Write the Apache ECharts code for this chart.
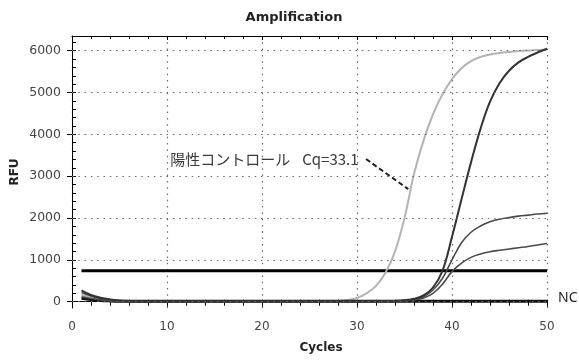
<!DOCTYPE html>
<html>
<head>
<meta charset="utf-8">
<script src="https://cdn.jsdelivr.net/npm/echarts@6/dist/echarts.min.js"></script>
<style>
  html, body { margin: 0; padding: 0; background: #fff; }
  #chart { width: 579px; height: 363px; }
</style>
</head>
<body>
<div id="chart"></div>
<script>
// PCR cycle numbers
const CYCLES = [
  1, 2, 3, 4, 5, 6, 7, 8, 9, 10,
  11, 12, 13, 14, 15, 16, 17, 18, 19, 20,
  21, 22, 23, 24, 25, 26, 27, 28, 29, 30,
  31, 32, 33, 34, 35, 36, 37, 38, 39, 40,
  41, 42, 43, 44, 45, 46, 47, 48, 49, 50
];

// Fluorescence (RFU) per cycle
const POSITIVE = [
  160, 100, 60, 35, 20, 10, 6, 4, 3, 3,
  2, 3, 3, 2, 3, 3, 3, 4, 3, 3,
  4, 4, 4, 5, 5, 6, 9, 16, 40, 90,
  200, 380, 690, 1200, 2000, 3050, 3850, 4480, 4960, 5320,
  5580, 5750, 5850, 5910, 5945, 5970, 5990, 6005, 6015, 6025
];
const SAMPLE_A = [
  270, 160, 95, 55, 30, 15, 8, 5, 4, 4,
  3, 3, 3, 3, 3, 3, 3, 3, 3, 3,
  3, 3, 4, 4, 4, 4, 4, 5, 5, 6,
  7, 9, 13, 20, 35, 70, 150, 340, 740, 1550,
  2450, 3330, 4130, 4780, 5220, 5520, 5720, 5850, 5955, 6045
];
const SAMPLE_B = [
  220, 135, 80, 45, 25, 12, 6, 4, 3, 3,
  3, 3, 3, 3, 3, 3, 3, 3, 3, 3,
  3, 3, 3, 3, 3, 3, 3, 3, 3, 3,
  4, 6, 10, 18, 30, 55, 120, 280, 560, 1000,
  1410, 1660, 1810, 1910, 1970, 2010, 2045, 2070, 2095, 2115
];
const SAMPLE_C = [
  120, 75, 45, 25, 15, 8, 4, 3, 3, 2,
  2, 2, 2, 2, 2, 2, 2, 2, 2, 2,
  2, 2, 2, 2, 2, 2, 3, 3, 3, 3,
  3, 5, 8, 14, 25, 45, 90, 200, 420, 720,
  920, 1060, 1140, 1195, 1230, 1260, 1290, 1320, 1355, 1390
];
const NEGATIVE = [
  80, 50, 30, 20, 14, 12, 11, 10, 10, 10,
  10, 10, 10, 10, 10, 10, 10, 10, 10, 10,
  10, 10, 10, 10, 10, 10, 10, 10, 10, 10,
  10, 10, 10, 10, 10, 10, 10, 10, 10, 10,
  10, 10, 10, 10, 10, 10, 10, 10, 10, 12
];

// Threshold and the positive-control Cq
const THRESHOLD = 740;
const CQ_POSITIVE = 33.1;

// Axis tick values
const Y_LABELS = [0, 1000, 2000, 3000, 4000, 5000, 6000];
const Y_MINOR = [0, 200, 400, 600, 800, 1000, 1200, 1400, 1600, 1800, 2000, 2200, 2400,
  2600, 2800, 3000, 3200, 3400, 3600, 3800, 4000, 4200, 4400, 4600, 4800, 5000, 5200,
  5400, 5600, 5800, 6000, 6200];

// Annotation leader (data coordinates)
const LEADER_FROM = [30.95, 3410];
const LEADER_TO = [35.4, 2690];

const pairs = (ys) => CYCLES.map((c, i) => [c, ys[i]]);

const FONT = '"DejaVu Sans", sans-serif';
const CJK = '"Noto Sans CJK JP", "Noto Sans", sans-serif';
const dot = () => ({ type: [1.5, 4.8], color: '#6a6a6a', width: 1.2 });

const chart = echarts.init(document.getElementById('chart'), null, { renderer: 'canvas' });

const curve = (name, ys, color, width, extra) => Object.assign({
  name, type: 'line', data: pairs(ys), showSymbol: false, symbol: 'none',
  smooth: 0.4,
  lineStyle: { color, width }, silent: true
}, extra || {});

// horizontal dotted grid at each labelled RFU value, plus the leader to the positive curve
const markLines = Y_LABELS.map(v => ({ yAxis: v, lineStyle: dot() }));
markLines.push([
  { coord: LEADER_FROM, lineStyle: { color: '#222', width: 2, type: [5, 3] } },
  { coord: LEADER_TO }
]);

chart.setOption({
  animation: false,
  backgroundColor: '#fff',
  grid: { left: 72, right: 32, top: 36, bottom: 55 },
  xAxis: [
    {
      type: 'value', min: 0, max: 50, interval: 10, position: 'bottom',
      axisLine: { lineStyle: { color: '#000', width: 1 } },
      axisTick: { length: 5, lineStyle: { color: '#000' } },
      minorTick: { show: true, splitNumber: 5, length: 4, lineStyle: { color: '#000' } },
      axisLabel: { margin: 13, fontFamily: FONT, fontSize: 12, color: '#444' },
      splitLine: { show: true, lineStyle: dot() }
    },
    {
      type: 'value', min: 0, max: 50, interval: 10, position: 'bottom',
      axisLine: { show: false },
      axisTick: { inside: true, length: 2, lineStyle: { color: '#000' } },
      minorTick: { show: true, splitNumber: 5, length: 2, lineStyle: { color: '#000' } },
      axisLabel: { show: false }, splitLine: { show: false }
    },
    {
      type: 'value', min: 0, max: 50, interval: 10, position: 'top',
      axisLine: { lineStyle: { color: '#000', width: 1 } },
      axisTick: { inside: true, length: 4, lineStyle: { color: '#000' } },
      minorTick: { show: true, splitNumber: 5, length: 3, lineStyle: { color: '#000' } },
      axisLabel: { show: false }, splitLine: { show: false }
    }
  ],
  yAxis: [
    {
      type: 'value', min: -150, max: 6350, position: 'left',
      axisLine: { show: true, lineStyle: { color: '#000', width: 1 } },
      axisTick: { show: true, customValues: Y_LABELS, length: 5, lineStyle: { color: '#000' } },
      axisLabel: {
        customValues: Y_LABELS, margin: 11, fontFamily: FONT, fontSize: 12.5, color: '#444',
        formatter: (v) => String(v)
      },
      splitLine: { show: false }
    },
    {
      type: 'value', min: -150, max: 6350, position: 'left', offset: 0,
      axisLine: { show: false },
      axisTick: { show: true, inside: true, customValues: Y_MINOR, length: 4, lineStyle: { color: '#000' } },
      axisLabel: { show: false }, splitLine: { show: false }
    }
  ],
  graphic: [
    { type: 'text', x: 294, y: 18, silent: true,
      style: { text: 'Amplification', font: 'bold 13px ' + FONT, fill: '#222', align: 'center', verticalAlign: 'middle' } },
    { type: 'text', x: 15, y: 172, rotation: Math.PI / 2, silent: true,
      style: { text: 'RFU', font: 'bold 12px ' + FONT, fill: '#222', align: 'center', verticalAlign: 'middle' } },
    { type: 'text', x: 321, y: 348, silent: true,
      style: { text: 'Cycles', font: 'bold 12px ' + FONT, fill: '#222', align: 'center', verticalAlign: 'middle' } }
  ],
  series: [
    {
      name: 'Threshold', type: 'line', symbol: 'none', silent: true,
      data: [[CYCLES[0], THRESHOLD], [CYCLES[CYCLES.length - 1], THRESHOLD]],
      lineStyle: { color: '#000', width: 3 }
    },
    curve('陽性コントロール', POSITIVE, '#b4b4b4', 2, {
      markLine: {
        silent: true, symbol: 'none', label: { show: false },
        data: markLines
      },
      markPoint: {
        silent: true, symbol: 'circle', symbolSize: 1,
        itemStyle: { color: 'rgba(0,0,0,0)' },
        label: {
          show: true, position: 'left', distance: 7,
          formatter: '{a|陽性コントロール}{b|Cq=' + CQ_POSITIVE + '}',
          rich: {
            a: { fontFamily: CJK, fontSize: 15, color: '#3a3a3a' },
            b: { fontFamily: CJK, fontSize: 15, color: '#3a3a3a', padding: [0, 0, 0, 12] }
          }
        },
        data: [{ coord: LEADER_FROM }]
      }
    }),
    curve('NC', NEGATIVE, '#111', 3, {
      endLabel: {
        show: true, formatter: 'NC', distance: 11, offset: [0, -3],
        fontFamily: '"Noto Sans", sans-serif', fontSize: 14, color: '#222'
      }
    }),
    curve('Sample C', SAMPLE_C, '#4a4a4a', 1.6),
    curve('Sample B', SAMPLE_B, '#4a4a4a', 1.6),
    curve('Sample A', SAMPLE_A, '#333', 2)
  ]
});
</script>
</body>
</html>
